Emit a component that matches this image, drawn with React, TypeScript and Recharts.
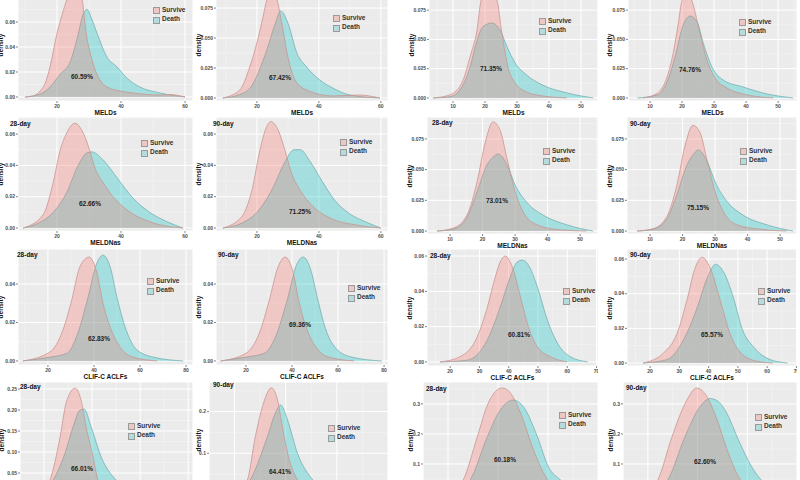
import React from 'react';
import { AreaChart, Area, XAxis, YAxis, CartesianGrid } from 'recharts';

type Pt = [number, number];

const seriesNames = ['Survive', 'Death'];
const dayTags = ['28-day', '90-day'];
const scoreTitles = ['MELDs', 'MELDNas', 'CLIF-C ACLFs', 'CLIF-C ADs'];
const overlapPct = [
  '60.59%', '67.42%', '71.35%', '74.76%',
  '62.66%', '71.25%', '73.01%', '75.15%',
  '62.83%', '69.36%', '60.81%', '65.57%',
  '66.01%', '64.41%', '60.18%', '62.60%',
];

// row 1: MELDs
const meldL28Survive: Pt[] = [[10, 0], [12.5, 0.0008], [14.7, 0.0048], [16.3, 0.011], [17.8, 0.024], [20, 0.051], [21.6, 0.066], [23.1, 0.078], [25.6, 0.088], [27.8, 0.078], [29.1, 0.051], [30.9, 0.03], [33.4, 0.0136], [35.6, 0.008], [39.7, 0.0048], [43.8, 0.0032], [52.2, 0.0016], [55.3, 0.002], [60, 0]];
const meldL28Death: Pt[] = [[10, 0], [14.7, 0.0024], [17.8, 0.008], [20.9, 0.018], [24.1, 0.028], [26.6, 0.05], [28.1, 0.066], [29.4, 0.07], [30.9, 0.062], [32.5, 0.051], [35.6, 0.032], [38.8, 0.024], [41.9, 0.015], [45.9, 0.008], [52.2, 0.0032], [60, 0]];
const meldL90Survive: Pt[] = [[9, 0], [14.5, 0.0067], [17.7, 0.026], [20, 0.046], [22, 0.068], [23.2, 0.082], [24.8, 0.092], [26.5, 0.082], [28.4, 0.057], [30, 0.034], [32.3, 0.015], [36, 0.0067], [44.5, 0.0017], [53, 0.0025], [59.7, 0]];
const meldL90Death: Pt[] = [[9, 0], [14.5, 0.003], [17.7, 0.008], [23.2, 0.04], [25.8, 0.061], [27.7, 0.0725], [30, 0.0625], [32.9, 0.0375], [36, 0.026], [40.3, 0.015], [44.5, 0.0083], [50, 0.0025], [59.7, 0]];
const meldR28Survive: Pt[] = [[3.8, 0], [9, 0.0026], [13.1, 0.015], [15.3, 0.035], [17.5, 0.058], [18.8, 0.0836], [21, 0.093], [23.7, 0.0836], [25.3, 0.055], [27.2, 0.026], [29.4, 0.0128], [33, 0.0051], [38, 0.0017], [45.6, 0]];
const meldR28Death: Pt[] = [[3.8, 0], [9, 0.001], [13.1, 0.011], [15.3, 0.026], [17.5, 0.049], [19.4, 0.061], [22.2, 0.064], [24.7, 0.058], [26.9, 0.0435], [29.4, 0.03], [33, 0.0196], [38, 0.011], [45.6, 0.0043], [53.8, 0]];
const meldR90Survive: Pt[] = [[7.8, 0], [12.2, 0.004], [15.3, 0.018], [17.2, 0.038], [19, 0.067], [19.7, 0.08], [21.6, 0.092], [23.4, 0.08], [25.6, 0.055], [27.8, 0.032], [30.3, 0.017], [34, 0.0085], [39, 0.0034], [48.4, 0]];
const meldR90Death: Pt[] = [[6, 0], [12.2, 0.0025], [15.3, 0.0137], [17.8, 0.035], [20.3, 0.062], [22.5, 0.07], [24.7, 0.065], [26.6, 0.047], [29.4, 0.026], [32.8, 0.0154], [39, 0.0094], [46.6, 0.0034], [54.7, 0]];

// row 2: MELDNas
const meldnaL28Survive: Pt[] = [[9.4, 0], [15.6, 0.0083], [18.8, 0.029], [20.9, 0.049], [23.1, 0.061], [25.6, 0.067], [28.1, 0.061], [30.3, 0.049], [31.9, 0.038], [34.4, 0.029], [37.5, 0.02], [41.9, 0.0115], [49, 0.004], [59.4, 0]];
const meldnaL28Death: Pt[] = [[9.4, 0], [14, 0.003], [18.8, 0.01], [23.1, 0.023], [26.6, 0.04], [29.4, 0.048], [30.9, 0.0486], [34.4, 0.0435], [38.8, 0.032], [43.8, 0.019], [49, 0.01], [54.4, 0.004], [59.4, 0]];
const meldnaL90Survive: Pt[] = [[9, 0], [15, 0.007], [18.5, 0.025], [21, 0.05], [23, 0.064], [24.5, 0.068], [26.5, 0.064], [29, 0.05], [31, 0.036], [34, 0.024], [38, 0.014], [44, 0.006], [52, 0.002], [60, 0]];
const meldnaL90Death: Pt[] = [[9, 0], [15, 0.003], [20, 0.01], [25, 0.025], [29, 0.042], [32, 0.05], [34, 0.05], [37, 0.043], [41, 0.03], [45, 0.018], [50, 0.009], [55, 0.004], [60, 0]];
const meldnaR28Survive: Pt[] = [[6, 0], [11, 0.0024], [15.2, 0.013], [18.3, 0.04], [20.8, 0.072], [23.2, 0.0888], [25.4, 0.082], [27.5, 0.059], [30, 0.032], [32.5, 0.0155], [36.8, 0.005], [43.8, 0.001], [52, 0]];
const meldnaR28Death: Pt[] = [[6, 0], [11, 0.0016], [15.2, 0.011], [18.3, 0.032], [21.4, 0.054], [23.2, 0.06], [24.8, 0.0627], [27.5, 0.054], [30, 0.0375], [33.7, 0.023], [38.6, 0.013], [46, 0.005], [54, 0]];
const meldnaR90Survive: Pt[] = [[6, 0], [11, 0.002], [15.2, 0.012], [18.3, 0.038], [20.8, 0.07], [23.2, 0.086], [25.4, 0.08], [27.5, 0.058], [30, 0.032], [32.5, 0.016], [36.8, 0.005], [43.8, 0.0015], [52, 0]];
const meldnaR90Death: Pt[] = [[6, 0], [11, 0.0015], [15.2, 0.01], [18.3, 0.03], [21.4, 0.054], [23.5, 0.063], [24.8, 0.066], [27.5, 0.057], [30, 0.04], [33.7, 0.024], [38.6, 0.013], [46, 0.005], [54, 0]];

// row 3: CLIF-C ACLFs
const clifL28Survive: Pt[] = [[9.1, 0], [20.9, 0.0047], [26.5, 0.016], [30.4, 0.032], [33.9, 0.049], [37.8, 0.054], [41.3, 0.0457], [43.9, 0.03], [47, 0.0177], [51.3, 0.0073], [57, 0.002], [67.4, 0]];
const clifL28Death: Pt[] = [[9.1, 0], [20.9, 0.002], [28.3, 0.004], [33, 0.0145], [37.4, 0.033], [41.3, 0.051], [43.9, 0.055], [47, 0.049], [50, 0.033], [53.5, 0.0177], [58.7, 0.0057], [65.7, 0.002], [78.7, 0]];
const clifL90Survive: Pt[] = [[9, 0], [20, 0.004], [26, 0.015], [30, 0.031], [34, 0.049], [37, 0.054], [40.5, 0.046], [43, 0.031], [46, 0.018], [50.5, 0.007], [56, 0.002], [67, 0]];
const clifL90Death: Pt[] = [[9, 0], [20, 0.002], [28, 0.004], [33, 0.013], [38, 0.032], [42, 0.05], [44.8, 0.054], [48, 0.048], [51, 0.033], [54.5, 0.017], [59.5, 0.006], [66, 0.002], [79, 0]];
const clifR28Survive: Pt[] = [[16.6, 0], [23.4, 0.003], [29.2, 0.014], [32.7, 0.031], [35.4, 0.048], [37.1, 0.0566], [38.8, 0.06], [41.2, 0.054], [44, 0.037], [46.7, 0.02], [49.8, 0.0085], [54.2, 0.003], [60, 0]];
const clifR28Death: Pt[] = [[16.6, 0], [25.8, 0.001], [32.7, 0.0125], [37.1, 0.031], [40.5, 0.048], [42.9, 0.0566], [44.7, 0.0577], [46.7, 0.055], [49.8, 0.0425], [53.2, 0.0238], [56.6, 0.0108], [61, 0.003], [67, 0]];
const clifR90Survive: Pt[] = [[17.6, 0], [24.5, 0.0057], [29.2, 0.017], [32.7, 0.037], [35.4, 0.055], [37.8, 0.061], [40.5, 0.055], [44, 0.036], [47.3, 0.017], [50.8, 0.0062], [56.6, 0.001], [62, 0]];
const clifR90Death: Pt[] = [[17.6, 0], [25.8, 0.002], [31.3, 0.013], [36.1, 0.032], [39.5, 0.049], [42.4, 0.057], [45.1, 0.0526], [48.6, 0.037], [51.4, 0.02], [55.5, 0.009], [61, 0.002], [67, 0]];

// row 4 (cut off at the bottom)
const adL28Survive: Pt[] = [[25, 0], [30, 0.005], [32.5, 0.033], [36.7, 0.136], [39.2, 0.217], [42.9, 0.252], [45.4, 0.224], [47.5, 0.16], [50.4, 0.088], [52.5, 0.033], [56, 0.008], [62, 0]];
const adL28Death: Pt[] = [[25, 0], [30, 0.004], [33.8, 0.033], [38.8, 0.098], [42.1, 0.16], [45, 0.2], [46.7, 0.202], [49.6, 0.16], [53.8, 0.088], [60, 0.033], [66, 0.008], [75, 0]];
const adL90Survive: Pt[] = [[25, 0], [31, 0.006], [35, 0.036], [38.1, 0.139], [41.3, 0.22], [44.4, 0.257], [46.8, 0.228], [48.7, 0.163], [51.1, 0.091], [54.6, 0.036], [58, 0.008], [64, 0]];
const adL90Death: Pt[] = [[25, 0], [31, 0.004], [36.1, 0.036], [42.8, 0.139], [46, 0.197], [48, 0.216], [50.7, 0.18], [54.6, 0.1], [60.6, 0.036], [66, 0.008], [75, 0]];
const adR28Survive: Pt[] = [[25, 0], [32, 0.01], [36.1, 0.047], [41.7, 0.19], [46.1, 0.303], [51.7, 0.353], [54.9, 0.337], [59, 0.27], [64.2, 0.147], [68.2, 0.07], [73, 0.02], [80, 0]];
const adR28Death: Pt[] = [[25, 0], [33, 0.008], [38.9, 0.047], [45.7, 0.19], [50.9, 0.28], [56.1, 0.313], [60.2, 0.29], [65.8, 0.19], [70.2, 0.09], [75, 0.047], [80, 0.015], [88, 0]];
const adR90Survive: Pt[] = [[25, 0], [30, 0.01], [34, 0.047], [39.7, 0.19], [44.9, 0.3], [49.7, 0.353], [52.9, 0.335], [57.3, 0.26], [62.2, 0.14], [67, 0.05], [72, 0.015], [80, 0]];
const adR90Death: Pt[] = [[25, 0], [32, 0.008], [38, 0.047], [44.9, 0.19], [50.9, 0.29], [55, 0.318], [58, 0.31], [61, 0.28], [67, 0.17], [71.8, 0.09], [77, 0.035], [82, 0.01], [88, 0]];

const SURVIVE = '#F8766D';
const DEATH = '#00BFC4';
const FONT = '"Liberation Sans", Arial, sans-serif';

type PanelCfg = {
  left: number; top: number; right: number; bottom: number;
  xDomain: [number, number]; xTicks: number[];
  yDomain: [number, number]; yTicks: number[]; yDigits: number;
  survive: Pt[]; death: Pt[];
  tagAt: [number, number] | null; pctAt: [number, number]; legendAt: [number, number];
  densityGap: number;
};

// layout of the 4x4 grid (page pixels), row by row
const panels: PanelCfg[] = [
  { left: 18, top: -12, right: 193, bottom: 101, xDomain: [7.8, 62.5], xTicks: [20, 40, 60], yDomain: [-0.0032, 0.0872], yTicks: [0, 0.02, 0.04, 0.06, 0.08], yDigits: 2, survive: meldL28Survive, death: meldL28Death, tagAt: null, pctAt: [82, 77], legendAt: [153, 7], densityGap: 17 },
  { left: 216, top: -12, right: 388, bottom: 101, xDomain: [6.8, 62.3], xTicks: [20, 40, 60], yDomain: [-0.0025, 0.0917], yTicks: [0, 0.025, 0.05, 0.075], yDigits: 3, survive: meldL90Survive, death: meldL90Death, tagAt: null, pctAt: [280, 78], legendAt: [333, 15], densityGap: 17 },
  { left: 429, top: -12, right: 598, bottom: 101, xDomain: [2.5, 55.3], xTicks: [10, 20, 30, 40, 50], yDomain: [-0.0026, 0.0939], yTicks: [0, 0.025, 0.05, 0.075], yDigits: 3, survive: meldR28Survive, death: meldR28Death, tagAt: null, pctAt: [491, 69], legendAt: [539, 18], densityGap: 17 },
  { left: 628, top: -12, right: 797, bottom: 101, xDomain: [3.1, 55.9], xTicks: [10, 20, 30, 40, 50], yDomain: [-0.0026, 0.0939], yTicks: [0, 0.025, 0.05, 0.075], yDigits: 3, survive: meldR90Survive, death: meldR90Death, tagAt: null, pctAt: [690, 70], legendAt: [739, 19], densityGap: 18 },

  { left: 18, top: 117, right: 193, bottom: 231, xDomain: [7.8, 62.5], xTicks: [20, 40, 60], yDomain: [-0.0019, 0.0709], yTicks: [0, 0.02, 0.04, 0.06], yDigits: 2, survive: meldnaL28Survive, death: meldnaL28Death, tagAt: [10, 123.5], pctAt: [90, 204], legendAt: [141, 140], densityGap: 17 },
  { left: 216, top: 117, right: 388, bottom: 231, xDomain: [6.8, 62.3], xTicks: [20, 40, 60], yDomain: [-0.0019, 0.0709], yTicks: [0, 0.02, 0.04, 0.06], yDigits: 2, survive: meldnaL90Survive, death: meldnaL90Death, tagAt: [213, 124], pctAt: [300, 212], legendAt: [340, 139], densityGap: 17 },
  { left: 427, top: 117, right: 598, bottom: 234, xDomain: [2.9, 55.5], xTicks: [10, 20, 30, 40, 50], yDomain: [-0.0024, 0.0928], yTicks: [0, 0.025, 0.05, 0.075], yDigits: 3, survive: meldnaR28Survive, death: meldnaR28Death, tagAt: [432, 123], pctAt: [497, 201], legendAt: [543, 148], densityGap: 17 },
  { left: 627, top: 117, right: 797, bottom: 234, xDomain: [2.9, 55.2], xTicks: [10, 20, 30, 40, 50], yDomain: [-0.0024, 0.0928], yTicks: [0, 0.025, 0.05, 0.075], yDigits: 3, survive: meldnaR90Survive, death: meldnaR90Death, tagAt: [630, 124], pctAt: [698, 208], legendAt: [740, 148], densityGap: 17 },

  { left: 18, top: 249, right: 193, bottom: 365, xDomain: [7, 83], xTicks: [20, 40, 60, 80], yDomain: [-0.0021, 0.0582], yTicks: [0, 0.02, 0.04], yDigits: 2, survive: clifL28Survive, death: clifL28Death, tagAt: [17, 255], pctAt: [99, 339], legendAt: [147, 278], densityGap: 17 },
  { left: 216, top: 249, right: 388, bottom: 365, xDomain: [7, 81.7], xTicks: [20, 40, 60, 80], yDomain: [-0.0021, 0.0582], yTicks: [0, 0.02, 0.04], yDigits: 2, survive: clifL90Survive, death: clifL90Death, tagAt: [218, 255], pctAt: [300, 325], legendAt: [348, 285], densityGap: 17 },
  { left: 427, top: 249, right: 598, bottom: 366, xDomain: [12.1, 70.5], xTicks: [20, 30, 40, 50, 60, 70], yDomain: [-0.0023, 0.064], yTicks: [0, 0.02, 0.04, 0.06], yDigits: 2, survive: clifR28Survive, death: clifR28Death, tagAt: [430, 256], pctAt: [519, 335], legendAt: [563, 288], densityGap: 17 },
  { left: 627, top: 249, right: 797, bottom: 366, xDomain: [12.1, 70.2], xTicks: [20, 30, 40, 50, 60, 70], yDomain: [-0.0017, 0.0658], yTicks: [0, 0.02, 0.04, 0.06], yDigits: 2, survive: clifR90Survive, death: clifR90Death, tagAt: [630, 255], pctAt: [712, 335], legendAt: [758, 288], densityGap: 17 },

  { left: 20, top: 382, right: 193, bottom: 497, xDomain: [20, 92], xTicks: [30, 50, 70, 90], yDomain: [-0.0071, 0.2667], yTicks: [0, 0.05, 0.1, 0.15, 0.2, 0.25], yDigits: 2, survive: adL28Survive, death: adL28Death, tagAt: [20, 387], pctAt: [82, 469], legendAt: [128, 423], densityGap: 18 },
  { left: 209, top: 382, right: 388, bottom: 497, xDomain: [20, 90], xTicks: [30, 50, 70, 90], yDomain: [-0.0048, 0.271], yTicks: [0, 0.1, 0.2], yDigits: 1, survive: adL90Survive, death: adL90Death, tagAt: [213, 385], pctAt: [280, 472], legendAt: [328, 425], densityGap: 10 },
  { left: 423, top: 382, right: 598, bottom: 497, xDomain: [20, 90], xTicks: [30, 50, 70, 90], yDomain: [-0.01, 0.373], yTicks: [0, 0.1, 0.2, 0.3], yDigits: 1, survive: adR28Survive, death: adR28Death, tagAt: [426, 389], pctAt: [505, 460], legendAt: [559, 412], densityGap: 12 },
  { left: 623, top: 382, right: 797, bottom: 497, xDomain: [20, 90], xTicks: [30, 50, 70, 90], yDomain: [-0.01, 0.373], yTicks: [0, 0.1, 0.2, 0.3], yDigits: 1, survive: adR90Survive, death: adR90Death, tagAt: [626, 388], pctAt: [705, 462], legendAt: [755, 414], densityGap: 12 },
];

const mergeSeries = (s: Pt[], d: Pt[]) => {
  const sm = new Map(s);
  const dm = new Map(d);
  const xs = Array.from(new Set([...sm.keys(), ...dm.keys()])).sort((a, b) => a - b);
  return xs.map((x) => ({
    x,
    survive: sm.has(x) ? sm.get(x) : null,
    death: dm.has(x) ? dm.get(x) : null,
  }));
};

// minor grid lines halfway between the major ticks
const minorOf = (ticks: number[], dom: [number, number]) => {
  const step = ticks[1] - ticks[0];
  const out: number[] = [];
  for (let v = ticks[0] - step * 1.5; v <= dom[1]; v += step) {
    if (v >= dom[0]) out.push(v);
  }
  return out;
};

const Y_AXIS_W = 30;
const X_AXIS_H = 20;
const tickStyle = { fontSize: 5, fill: '#4D4D4D', fontWeight: 'bold' as const, fontFamily: FONT };

const Panel = ({ cfg, idx }: { cfg: PanelCfg; idx: number }) => {
  const row = Math.floor(idx / 4);
  const col = idx % 4;
  const plotW = cfg.right - cfg.left;
  const plotH = cfg.bottom - cfg.top;
  const data = mergeSeries(cfg.survive, cfg.death);
  const midY = (cfg.top + cfg.bottom) / 2;

  return (
    <>
      <div style={{ position: 'absolute', left: cfg.left - Y_AXIS_W, top: cfg.top }}>
        <AreaChart width={plotW + Y_AXIS_W} height={plotH + X_AXIS_H} data={data} margin={{ top: 0, right: 0, bottom: 0, left: 0 }}>
          <CartesianGrid fill="#EBEBEB" stroke="#F7F7F7" strokeWidth={0.5}
            horizontalValues={minorOf(cfg.yTicks, cfg.yDomain)} verticalValues={minorOf(cfg.xTicks, cfg.xDomain)} />
          <CartesianGrid stroke="#FFFFFF" strokeWidth={1} />
          <XAxis type="number" dataKey="x" domain={cfg.xDomain} ticks={cfg.xTicks} allowDataOverflow
            height={X_AXIS_H} tickSize={2} tickMargin={1} axisLine={false} interval={0}
            tickLine={{ stroke: '#333', strokeWidth: 0.6 }} tick={tickStyle} />
          <YAxis type="number" domain={cfg.yDomain} ticks={cfg.yTicks} allowDataOverflow
            width={Y_AXIS_W} tickSize={2} tickMargin={1} axisLine={false} interval={0}
            tickFormatter={(v: number) => v.toFixed(cfg.yDigits)}
            tickLine={{ stroke: '#333', strokeWidth: 0.6 }} tick={tickStyle} />
          <Area type="monotone" dataKey="death" name={seriesNames[1]} connectNulls
            fill={DEATH} fillOpacity={0.3} stroke="#78AFB0" strokeWidth={0.8} isAnimationActive={false} />
          <Area type="monotone" dataKey="survive" name={seriesNames[0]} connectNulls
            fill={SURVIVE} fillOpacity={0.3} stroke="#C99590" strokeWidth={0.8} isAnimationActive={false} />
        </AreaChart>
      </div>

      {/* y title */}
      <div style={{ position: 'absolute', left: cfg.left - cfg.densityGap - 20, top: midY - 5, width: 40, height: 10, lineHeight: '10px', textAlign: 'center', transform: 'rotate(-90deg)', fontSize: 6.5, fontWeight: 'bold', color: '#111' }}>
        density
      </div>
      {/* x title */}
      <div style={{ position: 'absolute', left: cfg.left, width: plotW, top: cfg.bottom + 7, lineHeight: '10px', textAlign: 'center', fontSize: 6.5, fontWeight: 'bold', color: '#111' }}>
        {scoreTitles[row]}
      </div>
      {/* day tag */}
      {cfg.tagAt && (
        <div style={{ position: 'absolute', left: cfg.tagAt[0], top: cfg.tagAt[1] - 5, lineHeight: '10px', fontSize: 6.5, fontWeight: 'bold', color: '#111' }}>
          {dayTags[col % 2]}
        </div>
      )}
      {/* overlap */}
      <div style={{ position: 'absolute', left: cfg.pctAt[0] - 30, width: 60, top: cfg.pctAt[1] - 5, lineHeight: '10px', textAlign: 'center', fontSize: 6.5, fontWeight: 'bold', color: '#222' }}>
        {overlapPct[idx]}
      </div>
      {/* legend */}
      <div style={{ position: 'absolute', left: cfg.legendAt[0], top: cfg.legendAt[1] }}>
        {seriesNames.map((name, i) => (
          <div key={name} style={{ position: 'relative', height: 9.5 }}>
            <div style={{ position: 'absolute', left: 0, top: 0, width: 5, height: 5, border: '0.5px solid #9A9A9A', background: i === 0 ? '#EEC6C2' : '#B4DCDC' }} />
            <div style={{ position: 'absolute', left: 9, top: -2.5, lineHeight: '10px', fontSize: 6.5, fontWeight: 'bold', color: '#333', whiteSpace: 'nowrap' }}>{name}</div>
          </div>
        ))}
      </div>
    </>
  );
};

export default function App() {
  return (
    <div style={{ position: 'fixed', left: 0, top: 0, width: 800, height: 480, overflow: 'hidden', background: '#FFFFFF', fontFamily: FONT }}>
      {panels.map((p, i) => (
        <Panel key={i} cfg={p} idx={i} />
      ))}
    </div>
  );
}
